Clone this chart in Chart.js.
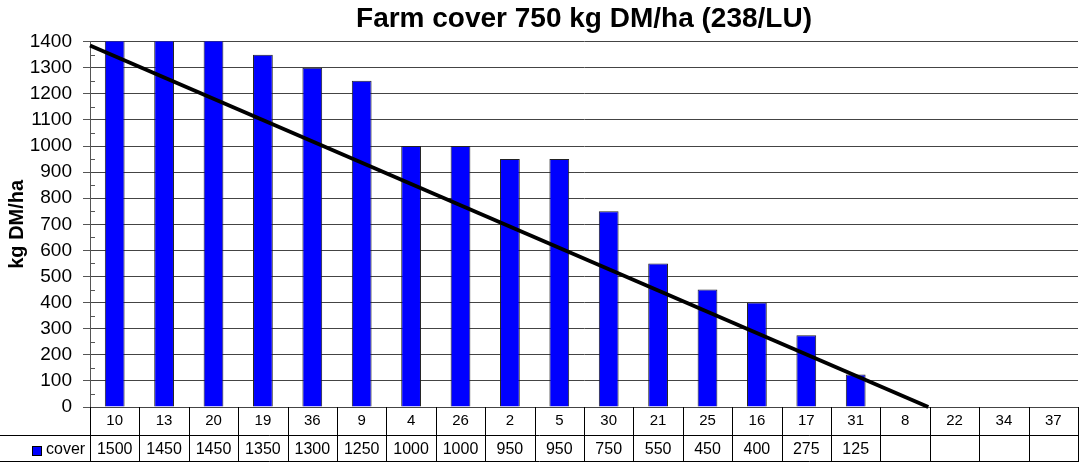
<!DOCTYPE html>
<html><head><meta charset="utf-8">
<script src="https://cdn.jsdelivr.net/npm/chart.js@4"></script>
<style>html,body{margin:0;padding:0;background:#fff;}canvas{display:block;}</style>
</head><body>
<canvas id="c" width="1079" height="462"></canvas>
<script>
const paddocks = ['10','13','20','19','36','9','4','26','2','5','30','21','25','16','17','31','8','22','34','37'];
const cover = [1500,1450,1450,1350,1300,1250,1000,1000,950,950,750,550,450,400,275,125,null,null,null,null];
const wedgeX = [-0.5, 16.47];
const wedgeY = [1385, 0];
const yTicks = {min:0, max:1400, step:100};
const seriesName = 'cover';
const titleText = 'Farm cover 750 kg DM/ha (238/LU)';
const yTitle = 'kg DM/ha';

const FONT = 'Liberation Sans, Arial, sans-serif';

const tablePlugin = {
  id:'table',
  afterDraw(chart){
    const ctx = chart.ctx, xs = chart.scales.x, ca = chart.chartArea;
    const n = paddocks.length;
    const w = (ca.right - ca.left)/n;
    const top = ca.bottom, mid = 435, bot = 462;
    ctx.save();
    ctx.strokeStyle = '#000'; ctx.lineWidth = 1;
    ctx.beginPath();
    ctx.moveTo(0, mid+0.5); ctx.lineTo(chart.width, mid+0.5);
    ctx.moveTo(0, bot-0.5); ctx.lineTo(chart.width, bot-0.5);
    ctx.stroke();
    ctx.beginPath();
    for (let i=0;i<=n;i++){
      const x = Math.round(xs.getPixelForValue(i) - w/2) + 0.5;
      ctx.moveTo(x, top); ctx.lineTo(x, bot);
    }
    ctx.stroke();
    ctx.fillStyle = '#000';
    ctx.font = '16px ' + FONT;
    ctx.textAlign = 'center'; ctx.textBaseline = 'middle';
    cover.forEach((v,i)=>{
      if (v!==null) ctx.fillText(String(v), xs.getPixelForValue(i), 450);
    });
    ctx.fillStyle = '#0000FF'; ctx.strokeStyle='#000';
    ctx.fillRect(32.5, 446.5, 9, 9); ctx.strokeRect(32.5, 446.5, 9, 9);
    ctx.fillStyle = '#000'; ctx.textAlign='left';
    ctx.fillText(seriesName, 46, 450);
    const ys = chart.scales.y;
    ctx.beginPath();
    for (let v=yTicks.min+50; v<yTicks.max; v+=100){
      const y = Math.round(ys.getPixelForValue(v))+0.5;
      ctx.moveTo(ca.left, y); ctx.lineTo(ca.left+5, y);
    }
    ctx.strokeStyle='#555';
    ctx.stroke();
    ctx.restore();
  }
};

new Chart(document.getElementById('c'), {
  data: {
    labels: paddocks,
    datasets: [
      {type:'bar', label:seriesName, data:cover, backgroundColor:'#0000FF', borderColor:'#222', borderWidth:1,
       grouped:false, categoryPercentage:1, barPercentage:0.4, xAxisID:'x', yAxisID:'y', order:2},
      {type:'line', label:'wedge', data: wedgeX.map((x,i)=>({x:x, y:wedgeY[i]})), borderColor:'#000', borderWidth:4,
       pointRadius:0, fill:false, xAxisID:'x2', yAxisID:'y', order:1, clip:false}
    ]
  },
  options: {
    responsive:false, animation:false, devicePixelRatio:1,
    layout:{padding:{left:0,right:1,top:0,bottom:0}},
    plugins:{
      legend:{display:false}, tooltip:{enabled:false},
      title:{display:true, fullSize:false, text:titleText, color:'#000', font:{family:FONT, size:28, weight:'bold'}, padding:{top:2,bottom:6}}
    },
    scales:{
      x:{type:'category', offset:true, position:'bottom',
         grid:{display:false, drawTicks:false, tickLength:0}, border:{display:false},
         ticks:{color:'#000', font:{family:FONT, size:15}, padding:5, maxRotation:0, autoSkip:false},
         afterFit(s){ s.height = 55; }},
      x2:{type:'linear', display:false, min:-0.5, max:19.5},
      y:{type:'linear', min:yTicks.min, max:yTicks.max,
         ticks:{stepSize:yTicks.step, autoSkip:false, color:'#000', font:{family:FONT, size:19}, padding:11, callback:(v)=>String(v)},
         grid:{color:'#444', tickLength:7, tickColor:'#555'},
         border:{color:'#555'},
         title:{display:true, text:yTitle, color:'#000', font:{family:FONT, size:20, weight:'bold'}, padding:{top:5,bottom:0}},
         afterFit(s){ s.width = 90; }}
    }
  },
  plugins:[tablePlugin]
});
</script>
</body></html>
